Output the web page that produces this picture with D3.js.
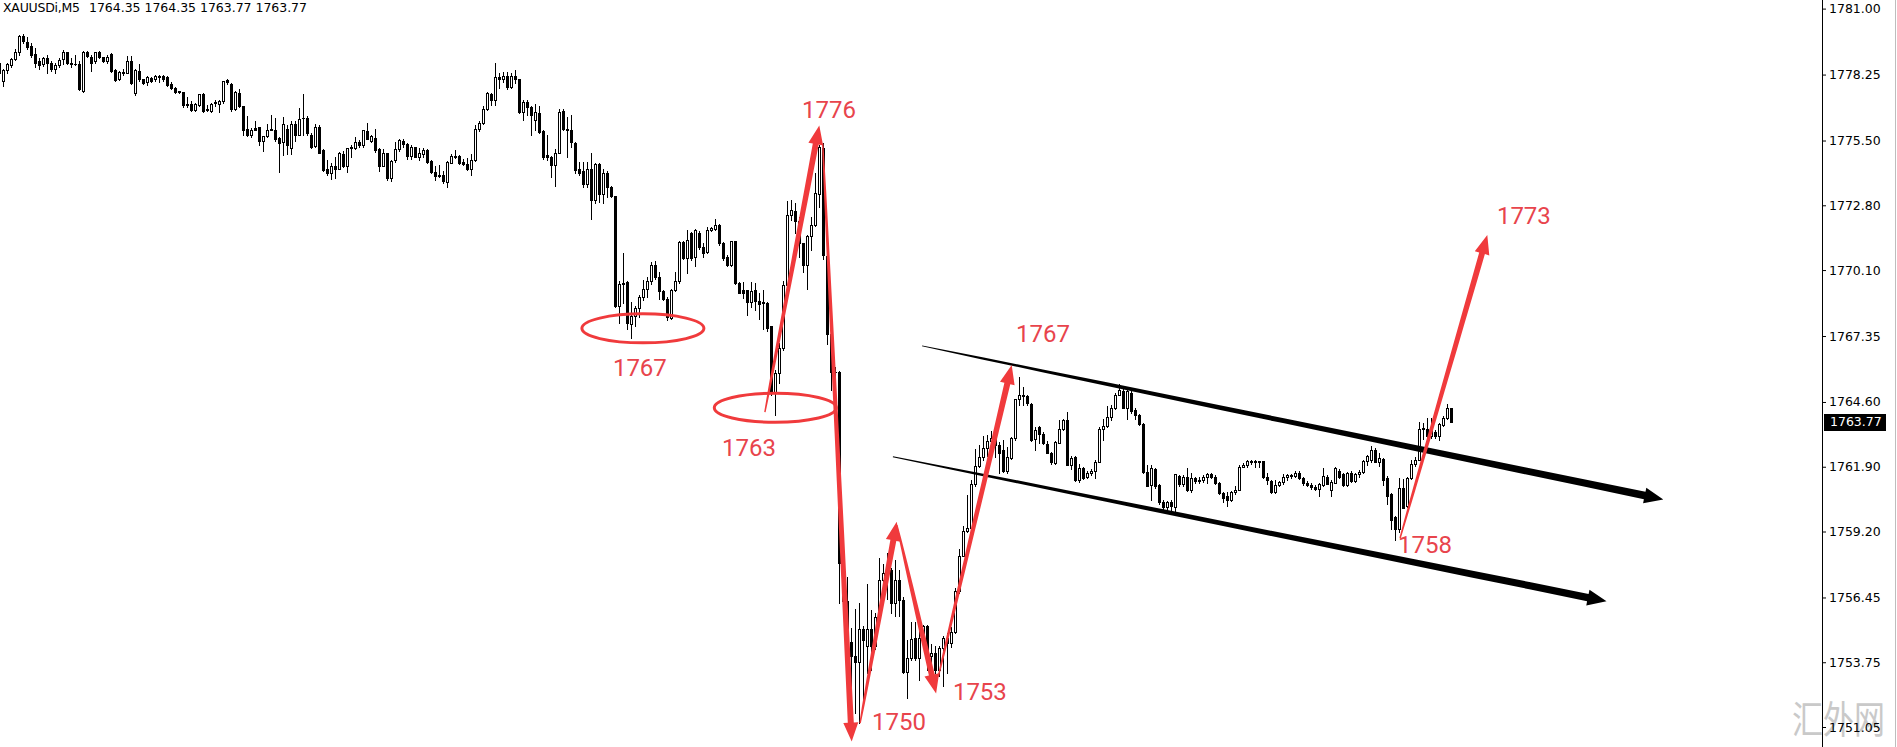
<!DOCTYPE html>
<html>
<head>
<meta charset="utf-8">
<script src="https://cdn.jsdelivr.net/npm/d3@7"></script>
<style>
  html, body { margin: 0; padding: 0; background: #fff; }
  svg { display: block; }
</style>
</head>
<body>
<div id="chart"></div>
<script>
// XAUUSDi M5 candles, oldest first
var opens = [
  1778.30,1778.00,1778.42,1778.64,1778.89,1779.19,1779.86,1779.61,1779.44,1779.11,
  1778.80,1778.67,1778.92,1778.75,1778.47,1778.64,1778.89,1779.19,1778.75,1778.69,
  1778.67,1777.58,1779.17,1779.00,1778.80,1779.19,1778.97,1778.80,1779.11,1778.42,
  1778.05,1778.36,1778.33,1778.80,1777.47,1778.39,1778.05,1777.94,1778.11,1778.05,
  1778.17,1778.19,1778.14,1777.86,1777.69,1777.55,1777.53,1777.03,1777.03,1776.78,
  1776.97,1777.44,1776.80,1776.72,1777.06,1777.03,1777.14,1778.03,1777.86,1776.83,
  1777.50,1776.92,1775.97,1775.75,1776.03,1776.05,1775.47,1775.69,1775.92,1775.94,
  1775.61,1775.42,1776.00,1775.17,1776.19,1775.75,1776.42,1776.42,1775.75,1775.28,
  1776.08,1775.11,1774.33,1774.14,1774.44,1774.33,1774.94,1774.42,1775.17,1775.17,
  1775.42,1775.30,1775.89,1775.50,1775.61,1775.14,1774.44,1774.97,1773.92,1774.67,
  1775.14,1775.50,1775.36,1774.86,1775.22,1774.83,1774.94,1775.11,1774.64,1774.19,
  1774.06,1774.08,1773.78,1774.58,1774.86,1774.86,1774.61,1774.53,1774.30,1774.69,
  1775.97,1776.22,1776.80,1777.42,1777.17,1778.14,1778.05,1778.21,1777.74,1778.21,
  1778.05,1776.71,1777.10,1776.88,1776.35,1776.66,1775.88,1774.91,1774.83,1774.50,
  1775.00,1776.74,1775.99,1775.94,1775.38,1774.30,1774.25,1773.69,1774.30,1773.02,
  1774.52,1773.27,1774.16,1773.55,1773.19,1768.61,1769.52,1769.61,1767.86,1768.19,
  1768.52,1768.99,1769.33,1769.66,1770.30,1769.83,1769.22,1768.91,1768.11,1769.27,
  1769.63,1771.27,1770.61,1771.63,1770.66,1771.66,1771.08,1770.86,1771.77,1771.83,
  1771.97,1771.22,1770.66,1770.33,1771.30,1769.58,1769.25,1769.27,1768.75,1769.25,
  1768.83,1768.75,1768.72,1767.75,1764.97,1765.80,1766.83,1769.47,1772.38,1772.58,
  1772.16,1771.21,1770.33,1771.52,1771.99,1773.27,1775.19,1770.69,1767.44,1765.83,
  1765.87,1757.88,1756.30,1754.60,1754.00,1753.78,1755.13,1754.41,1755.13,1754.41,
  1755.52,1757.19,1757.46,1757.60,1756.21,1757.19,1756.35,1753.35,1753.91,1754.74,
  1753.91,1754.74,1755.24,1753.99,1754.13,1753.44,1754.33,1754.74,1754.55,1755.02,
  1756.74,1758.19,1759.21,1759.33,1761.19,1761.94,1762.30,1762.69,1762.99,1763.10,
  1762.80,1762.60,1761.74,1762.27,1763.10,1764.71,1764.88,1764.85,1764.52,1763.05,
  1763.55,1763.27,1762.83,1762.49,1762.05,1762.91,1763.49,1763.83,1761.99,1762.30,
  1761.33,1761.83,1761.47,1761.63,1761.74,1762.10,1763.47,1763.60,1763.99,1764.35,
  1764.91,1765.05,1764.35,1764.99,1764.27,1764.05,1763.69,1761.69,1761.13,1761.80,
  1761.13,1760.41,1760.24,1760.44,1760.24,1761.52,1761.16,1761.47,1760.91,1761.44,
  1761.30,1761.33,1761.49,1761.60,1761.47,1761.24,1760.80,1760.69,1760.52,1760.83,
  1760.94,1761.91,1761.96,1762.13,1762.08,1762.10,1762.13,1761.47,1761.30,1760.83,
  1761.13,1761.27,1761.49,1761.55,1761.52,1761.63,1761.44,1761.24,1761.13,1761.05,
  1760.97,1761.13,1761.49,1760.91,1761.24,1761.74,1761.60,1761.13,1761.66,1761.30,
  1761.58,1761.69,1762.14,1762.19,1762.61,1762.11,1762.22,1761.44,1760.75,1759.80,
  1759.30,1761.03,1760.28,1761.42,1762.00,1762.19,1763.47,1763.47,1763.17,1763.36,
  1763.17,1763.64,1763.94,1764.35
];
var highs = [
  1778.78,1778.47,1778.72,1778.93,1779.30,1779.92,1779.94,1779.83,1779.58,1779.36,
  1778.94,1779.00,1779.05,1778.83,1778.72,1778.94,1779.28,1779.19,1778.94,1779.05,
  1778.83,1779.22,1779.25,1779.05,1779.19,1779.25,1779.00,1779.05,1779.14,1778.47,
  1778.39,1778.50,1779.03,1779.03,1778.47,1778.69,1778.08,1778.19,1778.14,1778.22,
  1778.25,1778.25,1778.17,1777.94,1777.72,1777.55,1777.53,1777.30,1777.14,1777.08,
  1777.42,1777.47,1776.97,1777.06,1777.19,1777.19,1778.00,1778.08,1777.89,1777.58,
  1777.64,1776.94,1776.53,1776.03,1776.30,1776.08,1775.69,1776.17,1776.55,1776.42,
  1775.64,1776.47,1776.14,1776.33,1776.33,1776.86,1777.44,1776.53,1775.80,1776.17,
  1776.14,1775.14,1774.69,1774.55,1774.83,1775.03,1775.05,1775.19,1775.33,1775.64,
  1775.53,1775.94,1776.22,1775.75,1775.97,1775.17,1775.14,1775.00,1774.67,1775.44,
  1775.58,1775.58,1775.39,1775.30,1775.22,1775.19,1775.19,1775.14,1774.67,1774.44,
  1774.47,1774.22,1774.64,1774.92,1775.11,1774.89,1774.72,1774.78,1774.92,1776.14,
  1776.33,1776.92,1777.53,1777.47,1778.75,1778.30,1778.35,1778.35,1778.30,1778.43,
  1778.08,1777.19,1777.19,1776.94,1777.02,1776.94,1775.94,1775.75,1774.86,1775.13,
  1776.80,1776.80,1776.49,1776.55,1775.44,1774.61,1774.61,1774.61,1774.97,1774.55,
  1774.55,1774.33,1774.25,1773.61,1773.19,1769.66,1770.80,1769.63,1768.77,1768.61,
  1769.08,1769.69,1769.83,1770.44,1770.47,1770.02,1769.27,1768.99,1769.30,1770.02,
  1771.30,1771.33,1771.77,1771.69,1771.83,1771.72,1771.22,1771.91,1771.91,1772.22,
  1772.00,1771.25,1770.72,1771.33,1771.33,1769.61,1769.61,1769.27,1769.61,1769.55,
  1769.16,1769.27,1768.75,1767.77,1765.94,1767.05,1769.63,1772.97,1773.02,1772.91,
  1772.33,1771.24,1771.55,1772.30,1774.13,1775.33,1775.41,1770.71,1767.60,1766.05,
  1765.90,1758.10,1757.30,1755.17,1755.96,1756.21,1755.24,1757.02,1755.94,1755.80,
  1758.08,1757.85,1758.30,1757.66,1758.02,1757.60,1756.49,1754.69,1755.44,1755.44,
  1755.13,1755.30,1755.30,1754.50,1754.41,1754.41,1754.83,1754.96,1755.21,1756.85,
  1758.46,1759.41,1760.71,1761.33,1762.66,1762.80,1763.19,1763.24,1763.40,1763.30,
  1762.95,1763.02,1762.71,1763.16,1764.74,1765.63,1765.24,1764.91,1764.55,1763.55,
  1763.58,1763.35,1762.96,1762.52,1762.96,1763.85,1763.88,1764.19,1762.35,1762.33,
  1762.02,1761.90,1761.74,1761.80,1762.19,1763.55,1763.91,1764.44,1764.49,1764.96,
  1765.35,1765.27,1765.10,1765.16,1764.33,1764.10,1763.71,1761.96,1761.96,1761.83,
  1761.16,1760.52,1760.49,1760.52,1761.60,1761.55,1761.55,1761.83,1761.63,1761.49,
  1761.47,1761.55,1761.63,1761.66,1761.55,1761.27,1760.85,1760.85,1760.88,1761.08,
  1761.96,1762.05,1762.19,1762.19,1762.19,1762.16,1762.16,1761.63,1761.36,1761.36,
  1761.30,1761.58,1761.60,1761.60,1761.74,1761.72,1761.47,1761.30,1761.24,1761.13,
  1761.22,1761.83,1761.55,1761.36,1761.88,1761.80,1761.63,1761.69,1761.72,1761.64,
  1761.75,1762.19,1762.39,1762.75,1762.67,1762.47,1762.25,1761.50,1760.80,1759.86,
  1761.42,1761.39,1761.47,1762.19,1762.30,1763.78,1763.72,1763.92,1763.92,1763.42,
  1763.72,1764.00,1764.53,1764.35
];
var lows = [
  1778.22,1777.78,1778.33,1778.58,1778.86,1779.05,1779.58,1779.33,1778.97,1778.58,
  1778.47,1778.61,1778.33,1778.39,1778.33,1778.55,1778.67,1778.69,1778.58,1778.64,
  1777.61,1777.53,1778.97,1778.39,1778.75,1778.94,1778.78,1778.75,1778.36,1778.00,
  1778.03,1778.22,1778.30,1777.86,1777.39,1778.00,1777.86,1777.80,1777.94,1778.00,
  1777.94,1778.00,1777.78,1777.64,1777.50,1777.50,1776.89,1776.89,1776.72,1776.75,
  1776.92,1776.69,1776.72,1776.69,1776.92,1776.69,1777.08,1777.86,1776.75,1776.78,
  1776.89,1775.72,1775.69,1775.64,1775.92,1775.30,1775.08,1775.64,1775.92,1775.50,
  1774.17,1774.89,1774.92,1774.94,1775.47,1775.75,1775.75,1775.75,1775.19,1775.22,
  1774.97,1774.22,1774.05,1773.89,1773.92,1774.30,1774.39,1774.19,1774.83,1775.14,
  1775.25,1775.22,1775.55,1775.44,1775.03,1774.22,1774.42,1773.86,1773.83,1774.61,
  1775.08,1775.22,1774.72,1774.75,1774.80,1774.69,1774.83,1774.58,1774.14,1773.86,
  1773.97,1773.75,1773.58,1774.55,1774.78,1774.53,1774.47,1774.28,1774.08,1774.64,
  1775.89,1776.17,1776.78,1777.00,1776.97,1777.71,1777.95,1777.63,1777.68,1777.91,
  1776.66,1776.35,1776.55,1775.71,1775.94,1775.80,1774.74,1774.69,1773.99,1773.61,
  1774.96,1775.94,1774.83,1775.21,1774.13,1774.05,1773.55,1773.55,1772.22,1772.91,
  1772.94,1772.88,1773.16,1773.16,1768.58,1767.89,1768.72,1767.66,1767.25,1767.75,
  1768.16,1768.86,1768.99,1769.52,1769.74,1768.91,1768.86,1768.02,1768.05,1769.22,
  1769.58,1770.55,1769.97,1770.52,1770.25,1770.99,1770.66,1770.80,1771.72,1771.77,
  1771.13,1770.52,1770.27,1770.27,1769.52,1769.13,1768.94,1768.22,1768.58,1768.44,
  1768.08,1767.63,1767.58,1764.91,1764.05,1765.38,1766.77,1769.41,1772.19,1771.63,
  1770.66,1770.02,1769.30,1770.94,1771.94,1772.74,1770.55,1767.02,1765.10,1765.60,
  1756.22,1755.90,1752.50,1752.19,1751.63,1751.21,1752.19,1753.30,1753.44,1754.30,
  1755.52,1756.63,1756.40,1755.80,1755.66,1755.66,1753.30,1752.26,1753.83,1753.83,
  1753.02,1754.60,1753.44,1753.60,1753.30,1753.16,1752.74,1753.30,1754.38,1754.96,
  1756.63,1758.16,1759.19,1759.27,1761.10,1761.88,1762.19,1762.33,1762.70,1762.30,
  1761.66,1761.69,1761.66,1762.24,1763.02,1764.49,1764.46,1764.49,1762.96,1762.60,
  1762.88,1762.85,1762.46,1762.02,1762.02,1762.88,1763.44,1761.96,1761.80,1761.30,
  1761.27,1761.38,1761.44,1761.55,1761.44,1762.08,1763.02,1763.55,1763.85,1764.30,
  1764.88,1764.33,1763.91,1764.16,1763.88,1763.66,1761.63,1761.08,1760.52,1761.02,
  1760.35,1760.05,1759.96,1760.00,1759.96,1761.10,1761.08,1760.88,1760.83,1761.24,
  1761.24,1761.27,1761.24,1761.41,1761.19,1760.77,1760.44,1760.27,1760.49,1760.77,
  1760.91,1761.88,1761.91,1762.02,1761.91,1761.91,1761.44,1761.16,1760.80,1760.80,
  1761.10,1761.16,1761.36,1761.41,1761.49,1761.38,1761.13,1761.08,1760.99,1760.91,
  1760.66,1761.10,1761.16,1760.66,1761.22,1761.44,1761.10,1761.10,1761.25,1761.25,
  1761.47,1761.64,1761.97,1762.08,1762.08,1761.94,1761.14,1760.33,1759.30,1758.86,
  1759.17,1760.17,1760.22,1761.39,1761.94,1762.17,1763.05,1763.11,1763.11,1763.08,
  1763.00,1763.58,1763.89,1763.77
];
var closes = [
  1778.72,1778.44,1778.68,1778.89,1779.19,1779.86,1779.64,1779.39,1779.08,1778.75,
  1778.64,1778.94,1778.75,1778.47,1778.64,1778.86,1779.17,1778.72,1778.67,1778.67,
  1777.64,1779.17,1779.03,1778.75,1779.19,1778.97,1778.80,1779.00,1778.39,1778.03,
  1778.36,1778.33,1778.80,1777.89,1778.42,1778.08,1777.89,1778.14,1778.00,1778.19,
  1778.16,1778.08,1777.80,1777.69,1777.53,1777.53,1776.97,1777.00,1776.78,1777.03,
  1777.42,1776.72,1776.78,1777.03,1777.11,1777.14,1777.97,1777.92,1776.83,1777.53,
  1776.92,1775.94,1775.72,1775.94,1775.94,1775.47,1775.67,1775.94,1775.97,1775.55,
  1775.39,1776.19,1775.30,1776.19,1775.75,1776.39,1776.44,1775.80,1775.25,1776.08,
  1775.00,1774.28,1774.14,1774.42,1774.33,1774.97,1774.42,1775.17,1775.22,1775.44,
  1775.30,1775.92,1775.58,1775.67,1775.11,1774.44,1774.97,1773.92,1774.64,1775.14,
  1775.53,1775.36,1774.86,1775.25,1774.83,1774.97,1775.11,1774.61,1774.17,1774.03,
  1774.03,1773.80,1774.61,1774.86,1774.83,1774.58,1774.53,1774.30,1774.69,1775.97,
  1776.25,1776.83,1777.47,1777.17,1778.14,1778.05,1778.21,1777.74,1778.21,1778.05,
  1776.69,1777.10,1776.88,1776.55,1776.69,1775.85,1774.80,1774.83,1774.50,1775.00,
  1776.71,1775.99,1775.94,1775.44,1774.27,1774.13,1773.69,1774.30,1773.02,1774.52,
  1773.27,1774.16,1773.58,1773.19,1768.61,1769.52,1769.55,1767.91,1768.19,1768.52,
  1768.99,1769.33,1769.66,1770.30,1769.83,1769.22,1768.88,1768.13,1769.27,1769.63,
  1771.27,1770.61,1771.36,1770.61,1771.77,1771.05,1770.80,1771.77,1771.86,1771.97,
  1771.22,1770.61,1770.33,1771.30,1769.58,1769.16,1769.13,1768.75,1769.22,1768.83,
  1768.69,1768.72,1767.69,1764.97,1765.80,1766.83,1769.47,1772.38,1772.60,1772.16,
  1771.21,1770.33,1771.52,1771.96,1773.30,1775.21,1770.71,1767.44,1765.83,1765.86,
  1757.88,1756.30,1754.60,1754.00,1753.74,1755.13,1754.69,1755.13,1754.41,1755.63,
  1757.19,1757.46,1757.60,1756.21,1757.19,1756.35,1753.35,1753.91,1754.71,1753.91,
  1754.74,1755.24,1753.99,1754.13,1753.44,1754.33,1754.74,1754.55,1755.02,1756.74,
  1758.19,1759.21,1759.33,1761.19,1761.94,1762.30,1762.69,1762.99,1763.10,1762.80,
  1762.49,1761.74,1762.30,1763.10,1764.71,1764.88,1764.83,1764.55,1763.02,1763.44,
  1763.27,1762.88,1762.49,1762.08,1762.94,1763.49,1763.83,1761.99,1762.27,1761.33,
  1761.83,1761.44,1761.63,1761.74,1762.10,1763.49,1763.60,1763.99,1764.35,1764.91,
  1765.10,1764.35,1765.05,1764.21,1764.05,1763.69,1761.69,1761.10,1761.85,1761.08,
  1760.41,1760.24,1760.44,1760.27,1761.58,1761.16,1761.49,1760.91,1761.44,1761.30,
  1761.33,1761.49,1761.58,1761.47,1761.24,1760.80,1760.60,1760.52,1760.83,1760.94,
  1761.91,1761.96,1762.13,1762.10,1762.13,1762.13,1761.47,1761.33,1760.83,1761.13,
  1761.27,1761.49,1761.55,1761.52,1761.63,1761.44,1761.24,1761.13,1761.05,1760.97,
  1761.16,1761.52,1761.19,1761.27,1761.83,1761.49,1761.13,1761.66,1761.30,1761.58,
  1761.69,1762.14,1762.33,1762.61,1762.11,1762.28,1761.36,1760.69,1759.69,1759.30,
  1761.03,1760.19,1761.42,1762.03,1762.19,1763.47,1763.50,1763.17,1763.44,1763.17,
  1763.67,1763.94,1764.36,1763.77
];

var priceTicks = [1781.00, 1778.25, 1775.50, 1772.80, 1770.10, 1767.35,
                  1764.60, 1761.90, 1759.20, 1756.45, 1753.75, 1751.05];
var lastPrice = 1763.77;
var symbolText = 'XAUUSDi,M5';
var ohlcText = '1764.35 1764.35 1763.77 1763.77';

// hand drawn annotations, in [bar index, price]
var redArrows = [
  [191.4, 1764.18, 205.0, 1776.13],
  [205.85, 1775.38, 213.1, 1750.44],
  [215.2, 1751.21, 224.35, 1759.61],
  [224.4, 1759.47, 234.2, 1752.45],
  [234.75, 1753.15, 253.1, 1766.14],
  [350.2, 1758.93, 372.0, 1771.56]
];
var channelLines = [
  [230.7, 1766.94, 416.0, 1760.54],
  [223.4, 1762.32, 401.8, 1756.29]
];
var circles = [[160.9, 1767.67], [194.0, 1764.36]];
var noteText = ['1767', '1763', '1776', '1750', '1753', '1767', '1758', '1773'];
var noteIdx = [153.4, 180.7, 200.7, 218.2, 238.4, 254.2, 349.7, 374.4];
var notePrice = [1765.68, 1762.35, 1776.44, 1750.93, 1752.18, 1767.10, 1758.31, 1772.02];

var W = 1897, H = 747;
var red = '#f03a3c';
var uiFont = '"DejaVu Sans", Verdana, sans-serif';

var svg = d3.select('#chart').append('svg')
    .attr('width', W)
    .attr('height', H);

svg.append('rect').attr('width', W).attr('height', H).attr('fill', '#fff');

var n = d3.min([opens.length, highs.length, lows.length, closes.length]);
var x = d3.scaleLinear().domain([0, 363]).range([-0.7, 1451.3]);
var y = d3.scaleLinear().domain([1751.05, 1781.00]).range([727, 8.6]);

var bars = d3.range(n).map(function (i) {
    return { i: i, o: opens[i], h: highs[i], l: lows[i], c: closes[i] };
});

// watermark sits behind everything
svg.append('text')
    .attr('x', 1792).attr('y', 733)
    .attr('font-family', 'Noto Sans CJK SC')
    .attr('font-size', 38)
    .attr('textLength', 93)
    .attr('lengthAdjust', 'spacingAndGlyphs')
    .attr('fill', '#c9c9c9')
    .text('汇外网');

// candles
var cg = svg.append('g').attr('shape-rendering', 'crispEdges');
function barX(d) { return Math.round(x(d.i)); }
function bodyTop(d) { return Math.round(y(Math.max(d.o, d.c))); }
function bodyBot(d) { return Math.round(y(Math.min(d.o, d.c))); }

cg.selectAll('line.wick')
    .data(bars)
    .enter().append('line')
    .attr('class', 'wick')
    .attr('x1', function (d) { return barX(d) + 0.5; })
    .attr('x2', function (d) { return barX(d) + 0.5; })
    .attr('y1', function (d) { return Math.round(y(d.h)); })
    .attr('y2', function (d) { return Math.round(y(d.l)) + 1; })
    .attr('stroke', '#000')
    .attr('stroke-width', 1);

cg.selectAll('rect.body')
    .data(bars)
    .enter().append('rect')
    .attr('class', 'body')
    .attr('x', function (d) { return barX(d) - 1; })
    .attr('width', 3)
    .attr('y', bodyTop)
    .attr('height', function (d) { return Math.max(1, bodyBot(d) - bodyTop(d) + 1); })
    .attr('fill', '#000');

cg.selectAll('rect.hollow')
    .data(bars.filter(function (d) { return d.c > d.o && bodyBot(d) - bodyTop(d) + 1 > 2; }))
    .enter().append('rect')
    .attr('class', 'hollow')
    .attr('x', barX)
    .attr('width', 1)
    .attr('y', function (d) { return bodyTop(d) + 1; })
    .attr('height', function (d) { return bodyBot(d) - bodyTop(d) - 1; })
    .attr('fill', '#fff');

// tapered arrow, thin at the start and wide near the head
function taper(x1, y1, x2, y2, w0, w1, hw, hl) {
    var dx = x2 - x1, dy = y2 - y1, len = Math.sqrt(dx * dx + dy * dy);
    var ux = dx / len, uy = dy / len, nx = -uy, ny = ux;
    var shaft = len - hl, bx = x2 - ux * hl, by = y2 - uy * hl;
    var left = [], right = [];
    for (var k = 0; k <= 12; k++) {
        var t = k / 12, w = w0 + (w1 - w0) * Math.pow(t, 0.7);
        var sx = x1 + ux * shaft * t, sy = y1 + uy * shaft * t;
        left.push([sx + nx * w / 2, sy + ny * w / 2]);
        right.push([sx - nx * w / 2, sy - ny * w / 2]);
    }
    var pts = left.concat([[bx + nx * hw / 2, by + ny * hw / 2], [x2, y2],
        [bx - nx * hw / 2, by - ny * hw / 2]]).concat(right.reverse());
    return 'M' + pts.map(function (p) { return p[0].toFixed(1) + ',' + p[1].toFixed(1); }).join('L') + 'Z';
}

var ag = svg.append('g');

ag.selectAll('path.chan')
    .data(channelLines)
    .enter().append('path')
    .attr('d', function (a) { return taper(x(a[0]), y(a[1]), x(a[2]), y(a[3]), 1, 7.5, 16, 19); })
    .attr('fill', '#000');

ag.selectAll('ellipse')
    .data(circles)
    .enter().append('ellipse')
    .attr('cx', function (c) { return x(c[0]); })
    .attr('cy', function (c) { return y(c[1]); })
    .attr('rx', 61)
    .attr('ry', 14.5)
    .attr('fill', 'none')
    .attr('stroke', red)
    .attr('stroke-width', 3);

ag.selectAll('path.red')
    .data(redArrows)
    .enter().append('path')
    .attr('d', function (a) { return taper(x(a[0]), y(a[1]), x(a[2]), y(a[3]), 1.5, 6, 15, 19); })
    .attr('fill', red);

ag.selectAll('text.note')
    .data(noteText)
    .enter().append('text')
    .attr('x', function (t, i) { return x(noteIdx[i]); })
    .attr('y', function (t, i) { return y(notePrice[i]); })
    .attr('font-family', 'Roboto, "Noto Sans", sans-serif')
    .attr('font-size', 24)
    .attr('fill', '#e8444c')
    .text(function (t) { return t; });

// price axis on the right
svg.append('line')
    .attr('x1', 1822.5).attr('x2', 1822.5)
    .attr('y1', 0).attr('y2', H)
    .attr('stroke', '#000');

svg.append('line')
    .attr('x1', 1895.5).attr('x2', 1895.5)
    .attr('y1', 0).attr('y2', H)
    .attr('stroke', '#bdbdbd');

var yAxis = d3.axisRight(y)
    .tickValues(priceTicks)
    .tickFormat(d3.format('.2f'))
    .tickSize(4)
    .tickPadding(3);

var axisG = svg.append('g')
    .attr('transform', 'translate(1822,0)')
    .call(yAxis);
// the axis call sets its own font, so restyle afterwards
axisG.attr('font-family', uiFont).attr('font-size', 12.5);
axisG.select('.domain').remove();
axisG.selectAll('line').attr('stroke', '#000');
axisG.selectAll('text').attr('fill', '#000');

// current price tag
var ly = y(lastPrice);
svg.append('rect')
    .attr('x', 1824).attr('y', Math.round(ly) - 8)
    .attr('width', 62).attr('height', 17)
    .attr('fill', '#000');
svg.append('text')
    .attr('x', 1830).attr('y', ly + 4.5)
    .attr('font-family', uiFont)
    .attr('font-size', 12.5)
    .attr('fill', '#fff')
    .text(d3.format('.2f')(lastPrice));

// symbol line at the top left
svg.append('text')
    .attr('x', 3).attr('y', 12)
    .attr('font-family', uiFont)
    .attr('font-size', 12.5)
    .attr('textLength', 77)
    .attr('fill', '#000')
    .text(symbolText);
svg.append('text')
    .attr('x', 89).attr('y', 12)
    .attr('font-family', uiFont)
    .attr('font-size', 12.5)
    .attr('textLength', 218)
    .attr('fill', '#000')
    .text(ohlcText);
</script>
</body>
</html>
